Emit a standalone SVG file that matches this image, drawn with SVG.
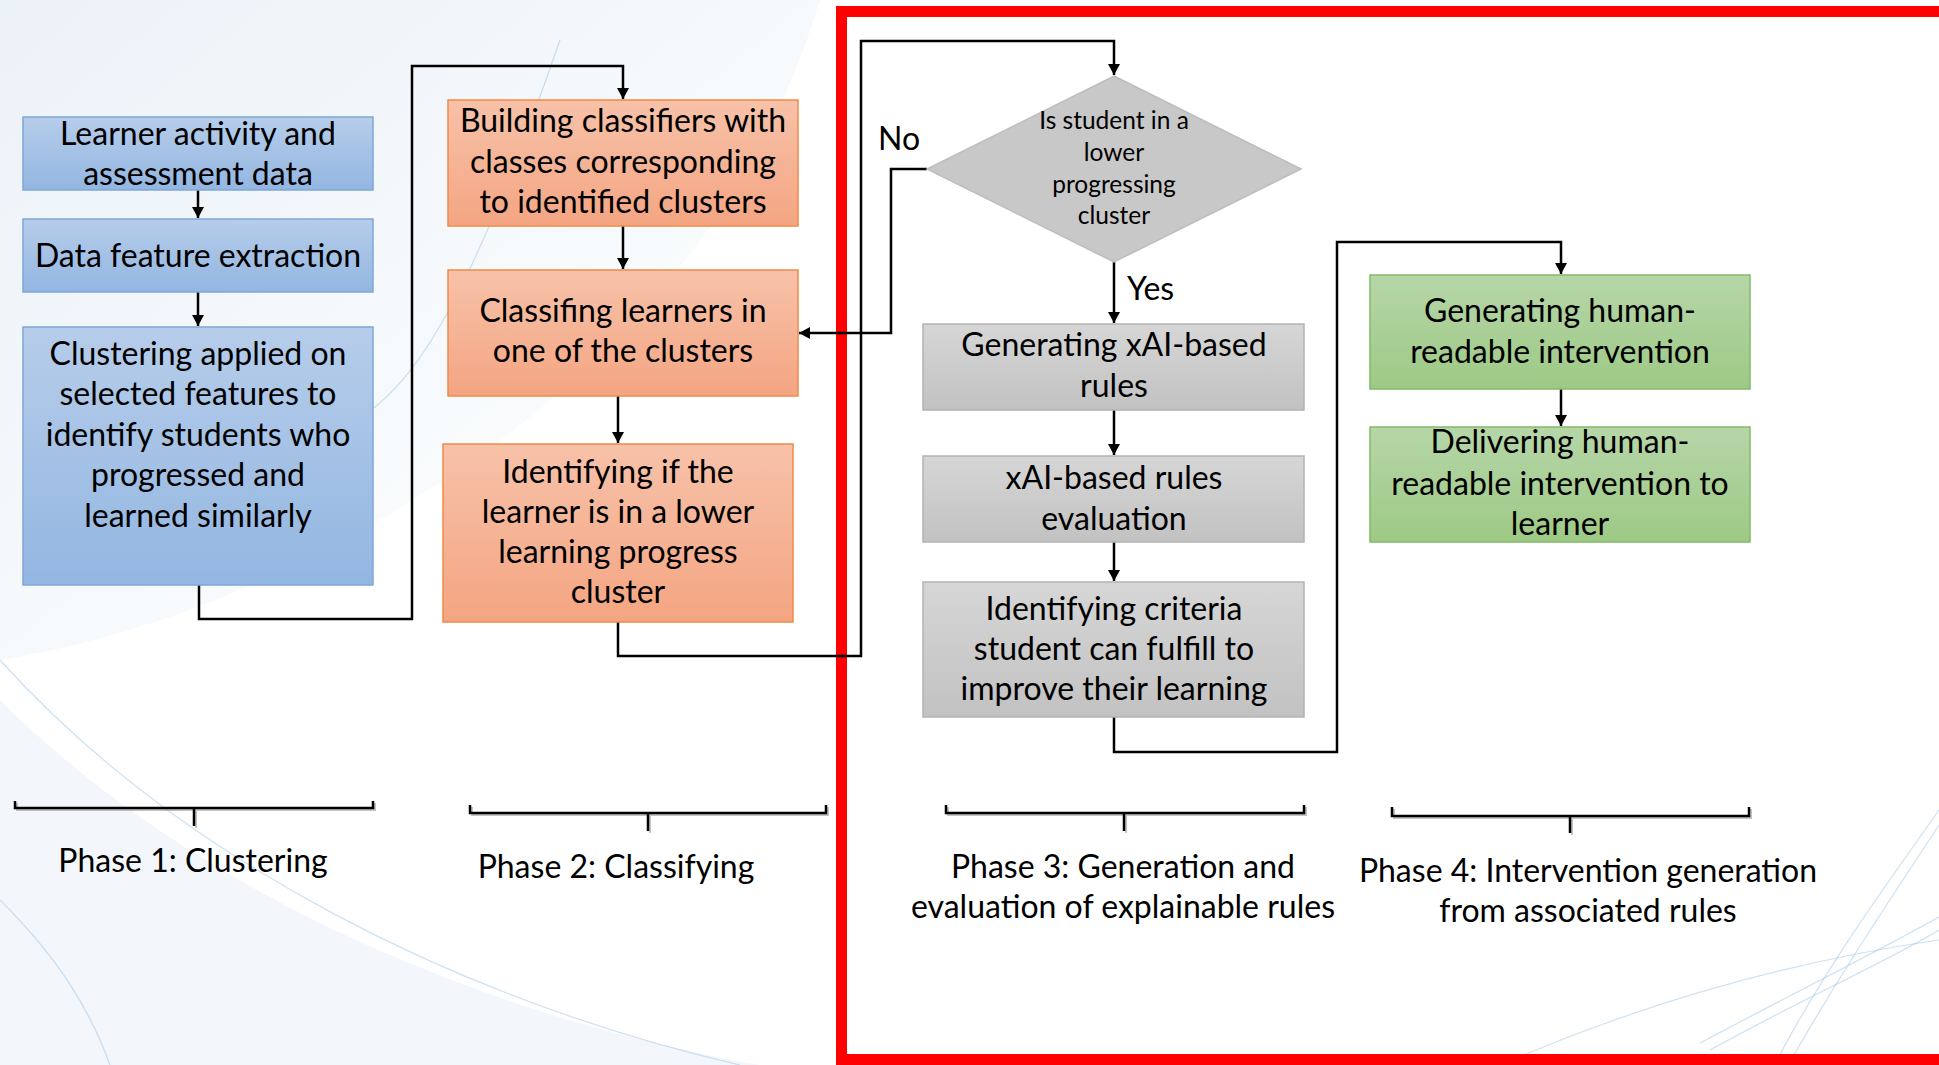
<svg xmlns="http://www.w3.org/2000/svg" width="1939" height="1065" viewBox="0 0 1939 1065">
<defs>
<linearGradient id="gBlue" x1="0" y1="0" x2="0" y2="1"><stop offset="0" stop-color="#b6cdea"/><stop offset="1" stop-color="#93b6e1"/></linearGradient>
<linearGradient id="gOrange" x1="0" y1="0" x2="0" y2="1"><stop offset="0" stop-color="#f7c2a9"/><stop offset="1" stop-color="#f4a582"/></linearGradient>
<linearGradient id="gGray" x1="0" y1="0" x2="0" y2="1"><stop offset="0" stop-color="#d6d6d6"/><stop offset="1" stop-color="#c2c2c2"/></linearGradient>
<linearGradient id="gGreen" x1="0" y1="0" x2="0" y2="1"><stop offset="0" stop-color="#b6d6a8"/><stop offset="1" stop-color="#9dc985"/></linearGradient>
<linearGradient id="gBg" x1="0" y1="0" x2="1" y2="1"><stop offset="0" stop-color="#e6eef6"/><stop offset="0.5" stop-color="#f4f8fb"/><stop offset="1" stop-color="#ffffff"/></linearGradient>
<marker id="arr" markerUnits="userSpaceOnUse" markerWidth="12" markerHeight="12" refX="11" refY="6" orient="auto"><path d="M0,0 L11,6 L0,12 Z" fill="#000"/></marker>
</defs>
<style>
.t{font-family:Lato,"Open Sans","Liberation Sans",sans-serif;font-size:32px;fill:#000;text-anchor:middle}
.d{font-size:24.5px}
.l{text-anchor:start}
.blue{fill:url(#gBlue);stroke:#7fa7d8;stroke-width:1.5}
.orange{fill:url(#gOrange);stroke:#f08a4b;stroke-width:1.5}
.gray{fill:url(#gGray);stroke:#b3b3b3;stroke-width:1.5}
.green{fill:url(#gGreen);stroke:#82bb66;stroke-width:1.5}
.c{fill:none;stroke:#000;stroke-width:2.5}
.br{fill:none;stroke:#000;stroke-width:2.5}
.brs{fill:none;stroke:#888;stroke-width:2;opacity:0.5}
.w{fill:none;stroke:#9cc3e6;stroke-width:1.2;opacity:0.5}
</style>
<g id="background">
<rect x="0" y="0" width="1939" height="1065" fill="#ffffff"/>
<path d="M0,0 H820 C760,200 620,380 380,520 C240,600 120,640 0,660 Z" fill="url(#gBg)" opacity="0.8"/>
<path d="M0,700 C200,900 500,1020 760,1065 H0 Z" fill="#eef4f9" opacity="0.7"/>
<path class="w" d="M0,660 C180,860 460,1000 740,1065"/>
<path class="w" d="M0,900 C60,960 90,1010 110,1065"/>
<path class="w" d="M374,408 C420,370 470,300 560,40"/>
<path class="w" d="M1700,1043 C1800,990 1880,950 1939,917"/>
<path class="w" d="M1710,1050 C1810,995 1890,960 1939,930"/>
<path class="w" d="M1777,1060 C1830,960 1890,880 1939,810"/>
<path class="w" d="M1790,1062 C1845,965 1900,885 1939,825"/>
<path class="w" d="M1500,1065 C1650,1000 1800,960 1939,940"/>
</g>
<g id="highlight-frame">
<rect x="841.5" y="11.5" width="1200" height="1048" fill="none" stroke="#ff0000" stroke-width="11"/>
</g>
<g id="connectors">
<path class="c" d="M198,190 V218" marker-end="url(#arr)"/>
<path class="c" d="M198,292 V326" marker-end="url(#arr)"/>
<path class="c" d="M199,585 V619 H412 V66 H623 V99" marker-end="url(#arr)"/>
<path class="c" d="M623,226 V269" marker-end="url(#arr)"/>
<path class="c" d="M618,396 V443" marker-end="url(#arr)"/>
<path class="c" d="M618,622 V656 H861 V41 H1114 V75" marker-end="url(#arr)"/>
<path class="c" d="M927,169 H891 V333 H799" marker-end="url(#arr)"/>
<path class="c" d="M1114,262 V323" marker-end="url(#arr)"/>
<path class="c" d="M1114,410 V455" marker-end="url(#arr)"/>
<path class="c" d="M1114,542 V581" marker-end="url(#arr)"/>
<path class="c" d="M1114,717 V752 H1337 V242 H1561 V274" marker-end="url(#arr)"/>
<path class="c" d="M1561,389 V426" marker-end="url(#arr)"/>
<text class="t l" x="878" y="150">No</text>
<text class="t l" x="1127" y="300">Yes</text>
</g>
<g id="n1"><rect class="blue" x="23" y="117" width="350" height="73"/>
<text class="t" x="198" y="145">Learner activity and</text><text class="t" x="198" y="185">assessment data</text></g>
<g id="n2"><rect class="blue" x="23" y="219" width="350" height="73"/>
<text class="t" x="198" y="267">Data feature extraction</text></g>
<g id="n3"><rect class="blue" x="23" y="327" width="350" height="258"/>
<text class="t" x="198" y="365">Clustering applied on</text><text class="t" x="198" y="405">selected features to</text><text class="t" x="198" y="446">identify students who</text><text class="t" x="198" y="486">progressed and</text><text class="t" x="198" y="527">learned similarly</text></g>
<g id="n4"><rect class="orange" x="448" y="100" width="350" height="126"/>
<text class="t" x="623" y="132">Building classifiers with</text><text class="t" x="623" y="173">classes corresponding</text><text class="t" x="623" y="213">to identified clusters</text></g>
<g id="n5"><rect class="orange" x="448" y="270" width="350" height="126"/>
<text class="t" x="623" y="322">Classifing learners in</text><text class="t" x="623" y="362">one of the clusters</text></g>
<g id="n6"><rect class="orange" x="443" y="444" width="350" height="178"/>
<text class="t" x="618" y="483">Identifying if the</text><text class="t" x="618" y="523">learner is in a lower</text><text class="t" x="618" y="563">learning progress</text><text class="t" x="618" y="603">cluster</text></g>
<g id="decision"><path d="M1114,76 L1301,169 L1114,262 L927,169 Z" fill="#c8c8c8" stroke="#bdbdbd" stroke-width="1.5"/>
<text class="t d" x="1114" y="129">Is student in a</text><text class="t d" x="1114" y="161">lower</text><text class="t d" x="1114" y="193">progressing</text><text class="t d" x="1114" y="224">cluster</text></g>
<g id="n7"><rect class="gray" x="923" y="324" width="381" height="86"/>
<text class="t" x="1114" y="356">Generating xAI-based</text><text class="t" x="1114" y="397">rules</text></g>
<g id="n8"><rect class="gray" x="923" y="456" width="381" height="86"/>
<text class="t" x="1114" y="489">xAI-based rules</text><text class="t" x="1114" y="530">evaluation</text></g>
<g id="n9"><rect class="gray" x="923" y="582" width="381" height="135"/>
<text class="t" x="1114" y="620">Identifying criteria</text><text class="t" x="1114" y="660">student can fulfill to</text><text class="t" x="1114" y="700">improve their learning</text></g>
<g id="n10"><rect class="green" x="1370" y="275" width="380" height="114"/>
<text class="t" x="1560" y="322">Generating human-</text><text class="t" x="1560" y="363">readable intervention</text></g>
<g id="n11"><rect class="green" x="1370" y="427" width="380" height="115"/>
<text class="t" x="1560" y="453">Delivering human-</text><text class="t" x="1560" y="495">readable intervention to</text><text class="t" x="1560" y="535">learner</text></g>
<g id="phase1">
<path class="brs" d="M17,803 V810 H375 V803 M196,810 V828"/>
<path class="br" d="M15,801 V808 H373 V801 M194,808 V826"/>
<text class="t" x="193" y="872">Phase 1: Clustering</text></g>
<g id="phase2">
<path class="brs" d="M472,807 V815 H828 V807 M650,815 V833"/>
<path class="br" d="M470,805 V813 H826 V805 M648,813 V831"/>
<text class="t" x="616" y="878">Phase 2: Classifying</text></g>
<g id="phase3">
<path class="brs" d="M948,807 V815 H1306 V807 M1126,815 V833"/>
<path class="br" d="M946,805 V813 H1304 V805 M1124,813 V831"/>
<text class="t" x="1123" y="878">Phase 3: Generation and</text><text class="t" x="1123" y="918">evaluation of explainable rules</text></g>
<g id="phase4">
<path class="brs" d="M1394,809 V818 H1751 V809 M1572,818 V835"/>
<path class="br" d="M1392,807 V816 H1749 V807 M1570,816 V833"/>
<text class="t" x="1588" y="882">Phase 4: Intervention generation</text><text class="t" x="1588" y="922">from associated rules</text></g>
</svg>
